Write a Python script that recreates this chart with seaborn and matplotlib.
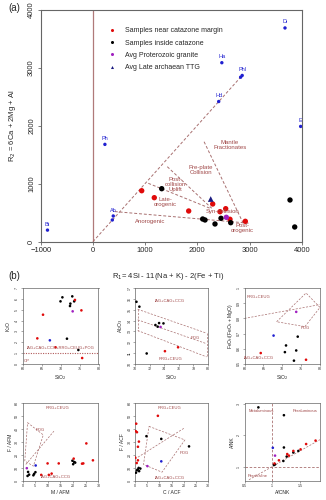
import numpy as np
import pandas as pd
import matplotlib
matplotlib.use("Agg")
import matplotlib.pyplot as plt
import seaborn as sns
from matplotlib.lines import Line2D

sns.set_style("ticks")
plt.rcParams['font.family'] = ['Liberation Sans', 'DejaVu Sans']

RED = '#e00a0a'; BLACK = '#000000'; PURPLE = '#a020c0'; BLUE = '#2020d0'; NAVY = '#1a1a80'
FIELD = '#a04848'; DASH = '#a87070'; SPINE = '#666666'

# ---------------- panel (a): R1-R2 ----------------
a_red_x = [935, 1176, 1835, 2295, 2435, 2544, 2626, 2920]
a_red_y = [880, 760, 530, 651, 518, 570, 387, 352]
a_black_x = [1318, 2103, 2148, 2339, 2454, 2640, 3776, 3866]
a_black_y = [915, 392, 375, 306, 404, 328, 720, 254]
a_purple_x = [2556]; a_purple_y = [421]
a_blue_x = [2257]; a_blue_y = [737]
min_names = ['Di', 'Ha', 'Phl', '', 'Hd', 'E', 'Ph', 'Bt', 'Ab', '']
min_x = [3680, 2470, 2860, 2830, 2410, 3980, 230, -870, 390, 372]
min_y = [3690, 3090, 2870, 2840, 2420, 1990, 1680, 200, 444, 375]
# field boundaries (dashed)
ln_origin_x = [0, 2860]; ln_origin_y = [0, 2870]
ln_anoro_x = [420, 2980]; ln_anoro_y = [520, 320]
ln_late_x = [1061, 2243]; ln_late_y = [1008, 577]
ln_post_x = [1425, 2276]; ln_post_y = [1295, 577]
ln_mantle_x = [2130, 2880]; ln_mantle_y = [1726, 318]
field_names = ['Mantle\nFractionates', 'Pre-plate\nCollision', 'Post-\ncollision\nUplift',
               'Late-\norogenic', 'Syn-collision', 'Anorogenic', 'Post-\norogenic']
field_x = [2626, 2071, 1586, 1381, 2487, 1094, 2870]
field_y = [1669, 1238, 996, 690, 513, 357, 231]
legend_labels = ['Samples near catazone margin', 'Samples inside catazone',
                 'Avg Proterozoic granite', 'Avg Late archaean TTG']

# ---------------- panel 1: K2O vs SiO2 ----------------
p1_red_x = [73.8, 75.5, 65.4, 63.9, 68.7, 75.7]
p1_red_y = [5.9, 4.94, 4.54, 2.36, 1.54, 0.55]
p1_black_x = [70.5, 73.1, 70.0, 73.6, 72.6, 72.5, 71.7, 74.7]
p1_black_y = [6.14, 6.23, 5.77, 5.77, 5.56, 5.34, 2.33, 1.29]
p1_purple_x = [73.2]; p1_purple_y = [4.85]
p1_blue_x = [67.2]; p1_blue_y = [2.18]

# ---------------- panel 2: Al2O3 vs SiO2 ----------------
p2_red_x = [75.9, 74.1]; p2_red_y = [11.54, 11.18]
p2_black_x = [70.2, 70.6, 72.8, 73.3, 73.9, 73.1, 71.6]
p2_black_y = [15.73, 15.28, 13.59, 13.77, 13.74, 13.44, 10.97]
p2_purple_x = [73.5]; p2_purple_y = [13.41]
p2_l1_x = [70.37, 79.8]; p2_l1_y = [15.04, 12.84]
p2_l2_x = [70.37, 79.8]; p2_l2_y = [14.07, 11.87]
p2_l3_x = [70.37, 79.8]; p2_l3_y = [13.08, 10.66]

# ---------------- panel 3: FeOt/(FeOt+MgO) vs SiO2 ----------------
p3_red_x = [64.3, 76.3]; p3_red_y = [0.572, 0.528]
p3_black_x = [74.1, 71.0, 73.7, 70.7, 73.1]
p3_black_y = [0.680, 0.622, 0.589, 0.578, 0.522]
p3_purple_x = [73.7]; p3_purple_y = [0.843]
p3_blue_x = [67.7]; p3_blue_y = [0.687]
p3_line_x = [60, 80]; p3_line_y = [0.80, 0.891]
p3_box_x = [68.5, 76.3, 80.0, 76.0, 68.5]; p3_box_y = [0.778, 0.967, 0.872, 0.746, 0.778]

# ---------------- panel 4: F/AFM vs M/AFM ----------------
p4_red_x = [25.2, 27.8, 9.9, 14.3, 23.5, 24.0, 20.2, 11.5, 10.4, 7.4]
p4_red_y = [28.9, 15.8, 13.4, 13.4, 13.2, 13.4, 17.1, 5.5, 4.5, 4.5]
p4_black_x = [19.7, 20.4, 20.0, 20.8, 2.2, 2.6, 2.0, 4.6, 5.1, 4.3]
p4_black_y = [15.5, 14.5, 12.8, 14.0, 6.8, 4.7, 3.7, 5.3, 6.6, 4.2]
p4_purple_x = [1.7]; p4_purple_y = [9.7]
p4_blue_x = [5.2]; p4_blue_y = [11.8]
p4_box_x = [2.0, 8.2, 4.3, 0.9, 2.0]; p4_box_y = [45.0, 35.5, 11.3, 15.3, 45.0]
p4_line_x = [1.3, 12.4]; p4_line_y = [12.6, 38.4]

# ---------------- panel 5: F/ACF vs C/ACF ----------------
p5_red_x = [9.4, 0.5, 0.3, 0.8, 1.6, 1.2, 1.2, 0.1, 0.7]
p5_red_y = [50.3, 44.2, 38.4, 37.6, 30.3, 26.3, 15.8, 17.9, 13.7]
p5_black_x = [4.7, 10.8, 22.2, 1.1, 0.8, 1.5, 0.4, 2.2, 1.7]
p5_black_y = [34.5, 32.4, 26.6, 8.7, 8.0, 9.9, 6.2, 9.4, 7.4]
p5_purple_x = [5.1]; p5_purple_y = [11.3]
p5_blue_x = [10.8]; p5_blue_y = [15.0]
p5_box_x = [5.76, 20.5, 11.1, 3.5, 5.76]; p5_box_y = [42.1, 31.6, 6.6, 12.6, 42.1]
p5_line_x = [0.0, 20.5]; p5_line_y = [16.8, 41.1]

# ---------------- panel 6: A/NK vs A/CNK ----------------
p6_red_x = [1.78, 1.61, 1.51, 1.38, 1.27, 1.30, 1.12, 1.04]
p6_red_y = [1.83, 1.72, 1.55, 1.50, 1.40, 1.35, 1.20, 1.10]
p6_black_x = [0.75, 1.21, 1.21, 1.47, 1.38, 1.26, 1.20, 1.05, 1.03]
p6_black_y = [2.89, 2.64, 1.61, 1.50, 1.45, 1.32, 1.18, 1.07, 1.05]
p6_purple_x = [1.05]; p6_purple_y = [1.35]
p6_blue_x = [1.01]; p6_blue_y = [1.60]
p6_diag_x = [0.58, 1.86]; p6_diag_y = [0.58, 1.86]

W, H = 326, 500
fig = plt.figure(figsize=(W / 100, H / 100), dpi=100)


def px_axes(l, t, r, b):
    return fig.add_axes([l / W, 1 - b / H, (r - l) / W, (b - t) / H])


def dots(ax, x, y, color, s, marker='o', label=None):
    sns.scatterplot(x=x, y=y, color=color, s=s, marker=marker, edgecolor='none',
                    linewidth=0, ax=ax, label=label, legend=False, zorder=3)


def dash(ax, x, y, lw=0.6):
    ax.plot(x, y, color=DASH, lw=lw, dashes=(3, 2), zorder=2)


def style(ax, lw=0.6):
    for sp in ax.spines.values():
        sp.set_color(SPINE)
        sp.set_linewidth(lw)
        sp.set_visible(True)


# ================= main panel (a) =================
ax = px_axes(40.7, 10, 301.7, 241.7)
style(ax, 0.8)
ax.axvline(0, color='#b07a7a', lw=0.9, zorder=1)
dash(ax, ln_origin_x, ln_origin_y, 0.7)
dash(ax, ln_anoro_x, ln_anoro_y, 0.7)
dash(ax, ln_late_x, ln_late_y, 0.7)
dash(ax, ln_post_x, ln_post_y, 0.7)
dash(ax, ln_mantle_x, ln_mantle_y, 0.7)
dots(ax, min_x, min_y, BLUE, 6)
for n, x, y in zip(min_names, min_x, min_y):
    if n:
        ax.text(x, y + 60, n, color=BLUE, fontsize=4, ha='center', va='bottom', clip_on=True)
dots(ax, a_red_x, a_red_y, RED, 15)
dots(ax, a_black_x, a_black_y, BLACK, 15)
dots(ax, a_purple_x, a_purple_y, PURPLE, 15)
dots(ax, a_blue_x, a_blue_y, NAVY, 17, marker='^')
for n, x, y in zip(field_names, field_x, field_y):
    ax.text(x, y, n, color=FIELD, fontsize=4.3, ha='center', va='center', linespacing=1.0)
ax.set_xlim(-1000, 4000)
ax.set_ylim(0, 4000)
ax.set_xticks([-1000, 0, 1000, 2000, 3000, 4000])
ax.set_yticks([0, 1000, 2000, 3000, 4000])
ax.tick_params(labelsize=5.5, length=2.5, width=0.6, color=SPINE, pad=1.5)
for lab in ax.get_yticklabels():
    lab.set_rotation(90)
    lab.set_va('center')
ax.set_ylabel('R$_2$ = 6Ca + 2Mg + Al', fontsize=5.5, labelpad=7)
ax.set_xlabel('')
handles = [Line2D([], [], ls='none', marker='o', ms=2.2, color=RED, mec='none'),
           Line2D([], [], ls='none', marker='o', ms=2.2, color=BLACK, mec='none'),
           Line2D([], [], ls='none', marker='o', ms=2.2, color=PURPLE, mec='none'),
           Line2D([], [], ls='none', marker='^', ms=2.2, color=NAVY, mec='none')]
ax.legend(handles, legend_labels, loc='upper left', bbox_to_anchor=(0.258, 0.925),
          frameon=False, fontsize=5, handlelength=1.0, handletextpad=1.4,
          labelspacing=0.75, borderpad=0, borderaxespad=0)

fig.text(8 / W, 1 - 8 / H, '(a)', fontsize=7, ha='left', va='center')
fig.text(8 / W, 1 - 276 / H, '(b)', fontsize=7, ha='left', va='center')
fig.text(168 / W, 1 - 276 / H, 'R$_1$= 4Si - 11(Na + K) - 2(Fe + Ti)', fontsize=5.5,
         ha='center', va='center')

# ================= small panels =================
cols = [(22.5, 98.5), (135, 208), (244.5, 320)]
rows = [(288, 364), (403.3, 480.7)]
TL = 2.6; LL = 3.6; FL = 3.0


def small(ax, xlim, ylim, xt, yt, xl, yl, xfmt=None, yfmt=None):
    style(ax, 0.5)
    ax.set_xlim(*xlim); ax.set_ylim(*ylim)
    ax.set_xticks(xt); ax.set_yticks(yt)
    if xfmt: ax.set_xticklabels(xfmt)
    if yfmt: ax.set_yticklabels(yfmt)
    ax.tick_params(labelsize=TL, length=1.5, width=0.4, color=SPINE, pad=1)
    for lab in ax.get_yticklabels():
        lab.set_rotation(90); lab.set_va('center')
    ax.set_xlabel(xl, fontsize=LL, labelpad=1.5)
    ax.set_ylabel(yl, fontsize=LL, labelpad=1.5)


def groups(ax, rx, ry, bx, by, ux=None, uy=None, vx=None, vy=None, s=3.5):
    if ux: dots(ax, ux, uy, BLUE, s)
    if vx: dots(ax, vx, vy, PURPLE, s)
    dots(ax, bx, by, BLACK, s)
    dots(ax, rx, ry, RED, s)


# panel 1
ax = px_axes(cols[0][0], rows[0][0], cols[0][1], rows[0][1])
ax.axhline(1, color='#b05a5a', lw=0.8, dashes=(1, 1.2))
groups(ax, p1_red_x, p1_red_y, p1_black_x, p1_black_y, p1_blue_x, p1_blue_y, p1_purple_x, p1_purple_y)
ax.text(70, 1.47, 'IAG+CAG+CCG+RRG+CEUG+POG', color=FIELD, fontsize=FL, ha='center', va='center')
ax.text(61.2, 0.3, 'OP', color=FIELD, fontsize=FL, ha='center', va='center')
small(ax, (60, 80), (0, 7), [60, 65, 70, 75, 80], range(8), 'SiO$_2$', 'K$_2$O')

# panel 2
ax = px_axes(cols[1][0], rows[0][0], cols[1][1], rows[0][1])
dash(ax, p2_l1_x, p2_l1_y, 0.5); dash(ax, p2_l2_x, p2_l2_y, 0.5); dash(ax, p2_l3_x, p2_l3_y, 0.5)
dash(ax, [p2_l1_x[0], p2_l3_x[0]], [p2_l1_y[0], p2_l3_y[0]], 0.5)
dash(ax, [p2_l1_x[1], p2_l3_x[1]], [p2_l1_y[1], p2_l3_y[1]], 0.5)
groups(ax, p2_red_x, p2_red_y, p2_black_x, p2_black_y, None, None, p2_purple_x, p2_purple_y)
ax.text(74.8, 15.8, 'IAG+CAG+CCG', color=FIELD, fontsize=FL, ha='center', va='center')
ax.text(78.3, 12.4, 'POG', color=FIELD, fontsize=FL, ha='center', va='center')
ax.text(74.8, 10.45, 'RRG+CEUG', color=FIELD, fontsize=FL, ha='center', va='center')
small(ax, (70, 80), (10, 17), [70, 72, 74, 76, 78, 80], range(10, 18), 'SiO$_2$', 'Al$_2$O$_3$')

# panel 3
ax = px_axes(cols[2][0], rows[0][0], cols[2][1], rows[0][1])
dash(ax, p3_line_x, p3_line_y, 0.5)
dash(ax, p3_box_x, p3_box_y, 0.5)
groups(ax, p3_red_x, p3_red_y, p3_black_x, p3_black_y, p3_blue_x, p3_blue_y, p3_purple_x, p3_purple_y)
ax.text(63.8, 0.94, 'RRG+CEUG', color=FIELD, fontsize=FL, ha='center', va='center')
ax.text(63.8, 0.54, 'IAG+CAG+CCG', color=FIELD, fontsize=FL, ha='center', va='center')
ax.text(76.2, 0.735, 'POG', color=FIELD, fontsize=FL, ha='center', va='center')
small(ax, (60, 80), (0.5, 1.0), [60, 65, 70, 75, 80], [0.5, 0.6, 0.7, 0.8, 0.9, 1.0],
      'SiO$_2$', 'FeO$_t$/(FeO$_t$ + MgO)', yfmt=['0.5', '0.6', '0.7', '0.8', '0.9', '1'])

# panel 4
ax = px_axes(cols[0][0], rows[1][0], cols[0][1], rows[1][1])
dash(ax, p4_box_x, p4_box_y, 0.5)
dash(ax, p4_line_x, p4_line_y, 0.5)
groups(ax, p4_red_x, p4_red_y, p4_black_x, p4_black_y, p4_blue_x, p4_blue_y, p4_purple_x, p4_purple_y)
ax.text(14, 56, 'RRG+CEUG', color=FIELD, fontsize=FL, ha='center', va='center')
ax.text(7.2, 39, 'POG', color=FIELD, fontsize=FL, ha='center', va='center')
ax.text(13, 3.0, 'IAG+CAG+CCG', color=FIELD, fontsize=FL, ha='center', va='center')
small(ax, (0, 30), (0, 60), range(0, 31, 5), range(0, 61, 10), 'M / AFM', 'F / AFM')

# panel 5
ax = px_axes(cols[1][0], rows[1][0], cols[1][1], rows[1][1])
dash(ax, p5_box_x, p5_box_y, 0.5)
dash(ax, p5_line_x, p5_line_y, 0.5)
groups(ax, p5_red_x, p5_red_y, p5_black_x, p5_black_y, p5_blue_x, p5_blue_y, p5_purple_x, p5_purple_y)
ax.text(14.3, 56, 'RRG+CEUG', color=FIELD, fontsize=FL, ha='center', va='center')
ax.text(20.4, 21.3, 'POG', color=FIELD, fontsize=FL, ha='center', va='center')
ax.text(14.3, 2.2, 'IAG+CAG+CCG', color=FIELD, fontsize=FL, ha='center', va='center')
small(ax, (0, 30), (0, 60), range(0, 31, 5), range(0, 61, 10), 'C / ACF', 'F / ACF')

# panel 6
ax = px_axes(cols[2][0], rows[1][0], cols[2][1], rows[1][1])
ax.axvline(1, color=DASH, lw=0.6, dashes=(3, 2))
ax.axhline(1, color=DASH, lw=0.6, dashes=(3, 2))
dash(ax, p6_diag_x, p6_diag_y, 0.5)
groups(ax, p6_red_x, p6_red_y, p6_black_x, p6_black_y, p6_blue_x, p6_blue_y, p6_purple_x, p6_purple_y)
ax.text(0.8, 2.78, 'Metaluminous', color=FIELD, fontsize=FL, ha='center', va='center')
ax.text(1.6, 2.78, 'Peraluminous', color=FIELD, fontsize=FL, ha='center', va='center')
ax.text(0.73, 0.70, 'Peralkaline', color=FIELD, fontsize=FL, ha='center', va='center')
small(ax, (0.5, 1.86), (0.55, 3.02), [0.5, 1.0, 1.5], [1, 2, 3], 'A/CNK', 'A/NK',
      xfmt=['0.5', '1', '1.5'], yfmt=['1', '2', '3'])

fig.savefig('out.png', dpi=100)
